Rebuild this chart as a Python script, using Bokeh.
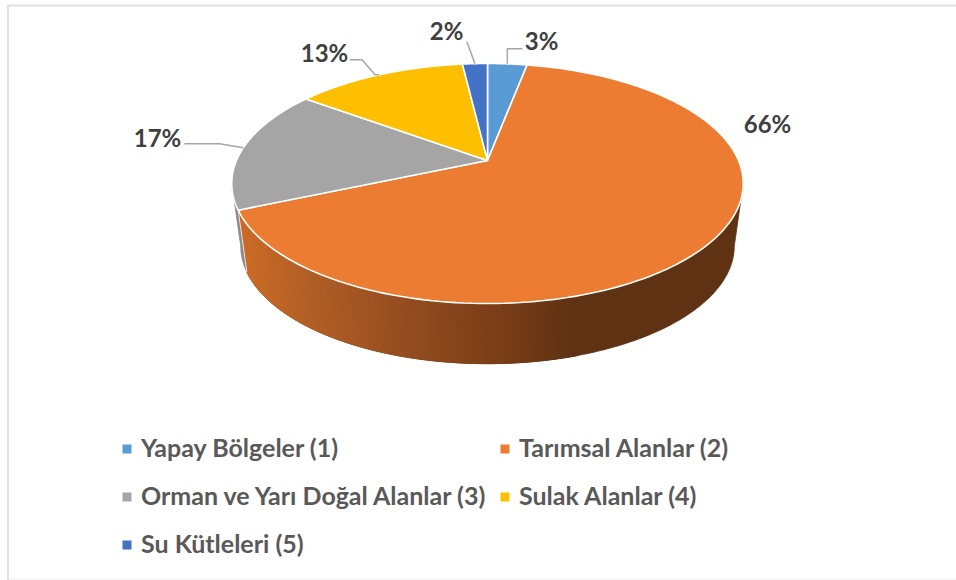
import numpy as np
from bokeh.plotting import figure
from bokeh.embed import file_html
from bokeh.resources import INLINE
from bokeh.core.properties import value

categories = ["Yapay Bölgeler (1)", "Tarımsal Alanlar (2)", "Orman ve Yarı Doğal Alanlar (3)", "Sulak Alanlar (4)", "Su Kütleleri (5)"]
shares = [3.0, 65.5, 16.6, 13.0, 1.9]
labels = ["3%", "66%", "17%", "13%", "2%"]
colors = ["#5B9BD5", "#EB7C31", "#A5A5A5", "#FDBF00", "#4472C4"]

# projection of the tilted disc (page pixels)
CX, CY, RX, RY, PERSP = 487.0, 160.0, 251.0, 115.6, 0.1917
LOW_S, LOW_CY = 0.965, 223.0

def top(t):
    u, v = np.sin(t), np.cos(t)
    d = 1 + PERSP * v
    return CX + RX * u / d, CY - RY * v / d

def low(t):
    u, v = np.sin(t), np.cos(t)
    d = 1 + PERSP * v
    return CX + LOW_S * RX * u / d, LOW_CY - 0.98 * RY * v / d

edges = 2 * np.pi * np.concatenate([[0], np.cumsum(shares)]) / sum(shares)

p = figure(width=956, height=580, x_range=(0, 956), y_range=(580, 0),
           output_backend="svg", toolbar_location=None, min_border=0,
           margin=(0, 0, 0, 0), outline_line_color=None)
p.axis.visible = False
p.grid.visible = False

# frame
p.line([956, 7.5, 7.5], [5, 5, 580], line_color="#E0E0E0", line_width=2)
p.line([9, 956], [578.5, 578.5], line_color="#F6F6F6", line_width=2)

# side wall
theta_r = np.pi / 2 + np.arcsin(PERSP)
theta_l = 2 * np.pi - theta_r
GRAD_X = [240, 300, 400, 500, 575, 750]
GRAD_R = [203, 180, 150, 122, 96, 96]
GRAD_G = [108, 96, 78, 62, 50, 50]
GRAD_B = [40, 38, 32, 24, 20, 20]

def orange_at(x):
    return "#%02x%02x%02x" % (int(np.interp(x, GRAD_X, GRAD_R)), int(np.interp(x, GRAD_X, GRAD_G)), int(np.interp(x, GRAD_X, GRAD_B)))

def wall(a, b, color):
    t = np.linspace(a, b, 200)
    x0, y0 = top(t)
    x1, y1 = low(t)
    p.patch(np.r_[x0, x1[::-1]], np.r_[y0, y1[::-1]], fill_color=color, line_color=color, line_width=0.8)

wall(theta_r, edges[2], orange_at(700))
wall(edges[2], theta_l, "#8A8A8A")

# gradient bands on the orange wall, one every 3px of rim
fine = np.linspace(theta_r, edges[2], 4000)
fx, _ = top(fine)
start = int(np.argmax(fx <= 580))
band_edges = [fine[start]]
for i in range(start, len(fine)):
    if top(band_edges[-1])[0] - fx[i] >= 3:
        band_edges.append(fine[i])
band_edges.append(edges[2])
xs, ys, cs = [], [], []
for t0, t1 in zip(band_edges[:-1], band_edges[1:]):
    x0, y0 = top(t0); x1, y1 = top(t1)
    x2, y2 = low(t1); x3, y3 = low(t0)
    xs.append([x0, x1, x2, x3]); ys.append([y0, y1, y2, y3])
    cs.append(orange_at((x0 + x1) / 2))
p.patches(xs, ys, fill_color=cs, line_color=cs, line_width=1)
bx, by = zip(top(edges[2]), low(edges[2]))
p.line(list(bx), list(by), line_color="#E8E8E8", line_width=1)

# top face
for a, b, c in zip(edges[:-1], edges[1:], colors):
    t = np.linspace(a, b, 160)
    x, y = top(t)
    p.patch(np.r_[CX, x], np.r_[CY, y], fill_color=c, line_color="white", line_width=1.6)

# leaders + labels: offsets from each slice's rim midpoint
mids = (edges[:-1] + edges[1:]) / 2
leader_dx = [[0, 0, 15], None, [-24, -59], [-4, -17, -29], [-8]]
leader_dy = [[0, -15, -15], None, [-4, -4], [0, -15, -15], [-22]]
label_xy = [(541, 40), (767, 123), (157, 137), (324, 52), (446, 30)]
for m, ldx, ldy in zip(mids, leader_dx, leader_dy):
    if ldx is None:
        continue
    ax, ay = top(m)
    p.line([ax] + [ax + d for d in ldx], [ay] + [ay + d for d in ldy], line_color="#A6A6A6", line_width=1.5)

p.text([q[0] for q in label_xy], [q[1] for q in label_xy], text=labels, text_font=value("Lato"),
       text_font_style="bold", text_font_size="24px", text_color="#404040",
       text_align="center", text_baseline="middle")

# legend
leg_x = [126.5, 504.5, 126.5, 504.5, 126.5]
leg_y = [448.5, 448.5, 496.5, 496.5, 544.5]
p.scatter(leg_x, leg_y, marker="square", size=9, fill_color=colors, line_color=None)
p.text([x + 14 for x in leg_x], [y - 2.5 for y in leg_y], text=categories, text_font=value("Lato"),
       text_font_style="bold", text_font_size="25px", text_color="#595959",
       text_align="left", text_baseline="middle")

open("out.html", "w").write(file_html(p, INLINE))
